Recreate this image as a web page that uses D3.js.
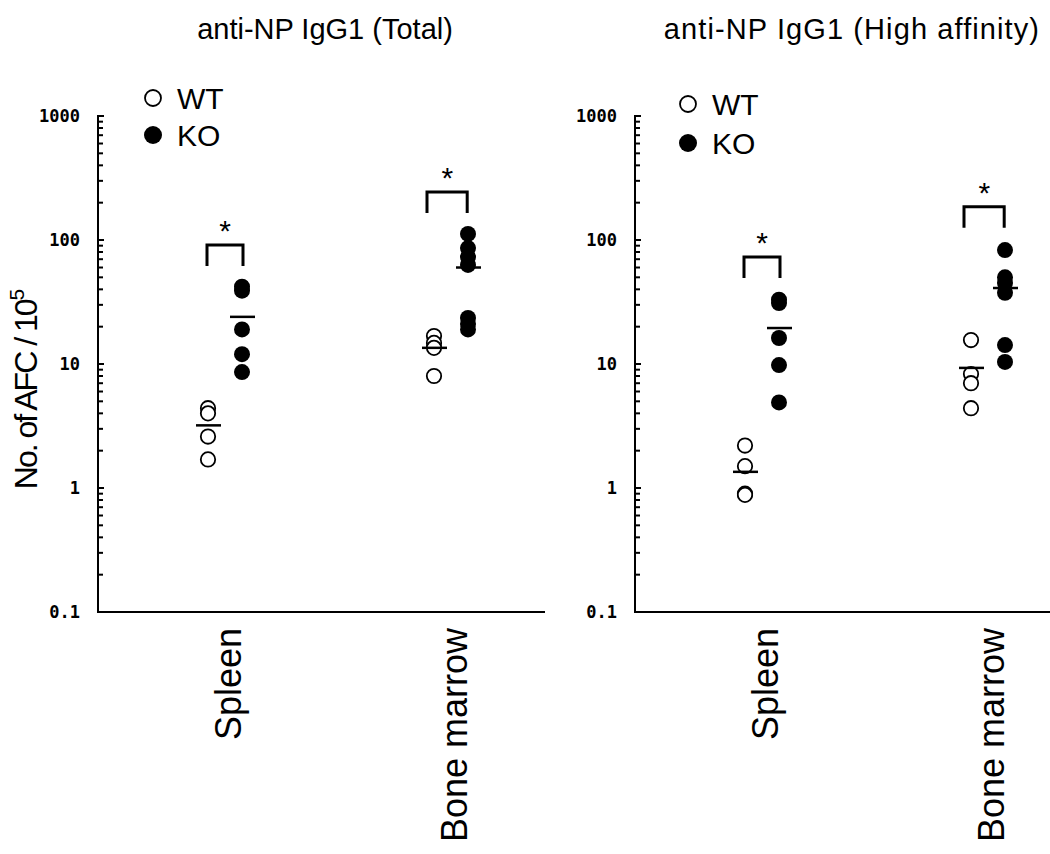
<!DOCTYPE html>
<html>
<head>
<meta charset="utf-8">
<script src="https://cdn.jsdelivr.net/npm/d3@7"></script>
<style>
  body { margin: 0; background: #fff; }
  svg { display: block; }
</style>
</head>
<body>
<svg id="chart" width="1050" height="854"></svg>
<script>
(() => {
  'use strict';

  // ---- data ----
  const categories = ["Spleen", "Bone marrow"];
  const groups = ["WT", "KO"];
  const titles = ["anti-NP IgG1 (Total)", "anti-NP IgG1 (High affinity)"];
  const yTicks = [0.1, 1, 10, 100, 1000];
  const yTickLabels = ["0.1", "1", "10", "100", "1000"];

  // per category: [Spleen, Bone marrow]
  const totalWT = [[4.4, 4.0, 2.6, 1.7], [16.8, 14.8, 13.5, 8.0]];
  const totalKO = [[42, 39, 19, 12, 8.6], [112, 86, 73, 63, 23.5, 21, 19]];
  const totalMeanWT = [3.2, 13.5];
  const totalMeanKO = [24, 60];
  const totalSig = [91, 244];

  const highWT = [[2.2, 1.5, 0.9, 0.88], [15.6, 8.3, 7.0, 4.4]];
  const highKO = [[33, 31, 16.2, 9.8, 4.9], [83, 50, 45, 37.5, 14.2, 10.4]];
  const highMeanWT = [1.35, 9.3];
  const highMeanKO = [19.5, 41];
  const highSig = [73, 185];

  const panels = [
    { title: titles[0], wt: totalWT, ko: totalKO, meanWT: totalMeanWT, meanKO: totalMeanKO, sig: totalSig,
      axisX: 98, axisEnd: 545, titleX: 325, titleSpacing: 0, legend: [153, 98, 37] },
    { title: titles[1], wt: highWT, ko: highKO, meanWT: highMeanWT, meanKO: highMeanKO, sig: highSig,
      axisX: 635, axisEnd: 1050, titleX: 852, titleSpacing: 1.1, legend: [688, 104, 39] }
  ];

  const svg = d3.select("#chart");
  const top = 116, bottom = 612;
  const r = 8;
  const sans = "Arial, 'Liberation Sans', sans-serif";

  let y = d3.scaleLog().domain([0.1, 1000]).range([bottom, top]);

  // shared y-axis title
  svg.append("text")
    .attr("transform", `translate(37, ${390}) rotate(-90)`)
    .attr("text-anchor", "middle")
    .attr("font-family", sans)
    .attr("font-size", 32)
    .attr("letter-spacing", -2)
    .text("No. of AFC / 10")
    .append("tspan")
    .attr("dy", -13)
    .attr("font-size", 21)
    .text("5");

  panels.forEach(p => {
    let g = svg.append("g");
    let x = d3.scalePoint().domain(categories).range([p.axisX + 127, p.axisX + 353]);
    let off = d3.scalePoint().domain(groups).range([-17, 17]);

    // title
    g.append("text")
      .attr("x", p.titleX)
      .attr("y", 39)
      .attr("text-anchor", "middle")
      .attr("font-family", sans)
      .attr("font-size", 29)
      .attr("letter-spacing", p.titleSpacing)
      .text(p.title);

    // y axis with minor ticks pointing inward
    let minor = [];
    for (let e = -1; e < 3; e++) for (let m = 2; m <= 9; m++) minor.push(m * Math.pow(10, e));
    let axis = g.append("g").attr("transform", `translate(${p.axisX},0)`);
    axis.append("line")
      .attr("y1", top - 1).attr("y2", bottom + 1)
      .attr("stroke", "#000").attr("stroke-width", 2);
    axis.selectAll(".minor").data(minor).join("line")
      .attr("x1", 0).attr("x2", 5)
      .attr("y1", d => y(d)).attr("y2", d => y(d))
      .attr("stroke", "#000").attr("stroke-width", 2);
    axis.selectAll(".major").data(yTicks).join("line")
      .attr("x1", 0).attr("x2", 6)
      .attr("y1", d => y(d)).attr("y2", d => y(d))
      .attr("stroke", "#000").attr("stroke-width", 2);
    axis.selectAll(".lab").data(yTicks).join("text")
      .attr("x", -18)
      .attr("y", d => y(d))
      .attr("dy", "0.36em")
      .attr("text-anchor", "end")
      .attr("font-family", "'DejaVu Sans Mono', monospace")
      .attr("font-weight", "bold")
      .attr("font-size", 17)
      .text((d, i) => yTickLabels[i]);

    // x axis line
    g.append("line")
      .attr("x1", p.axisX - 1).attr("x2", p.axisEnd)
      .attr("y1", bottom).attr("y2", bottom)
      .attr("stroke", "#000").attr("stroke-width", 2);

    // category labels
    g.selectAll(".cat").data(categories).join("text")
      .attr("transform", d => `translate(${x(d) + 3}, ${628}) rotate(-90)`)
      .attr("dy", "0.36em")
      .attr("text-anchor", "end")
      .attr("font-family", sans)
      .attr("font-size", 36)
      .text(d => d);

    // points
    categories.forEach((c, ci) => {
      let xw = x(c) + off("WT"), xk = x(c) + off("KO");
      g.selectAll(null).data(p.wt[ci]).join("circle")
        .attr("cx", xw).attr("cy", d => y(d)).attr("r", r - 0.8)
        .attr("fill", "#fff").attr("stroke", "#000").attr("stroke-width", 1.8);
      g.selectAll(null).data(p.ko[ci]).join("circle")
        .attr("cx", xk).attr("cy", d => y(d)).attr("r", r)
        .attr("fill", "#000");
      // mean bars
      [[xw, p.meanWT[ci]], [xk, p.meanKO[ci]]].forEach(([mx, mv]) => {
        g.append("line")
          .attr("x1", mx - 12).attr("x2", mx + 13)
          .attr("y1", y(mv)).attr("y2", y(mv))
          .attr("stroke", "#000").attr("stroke-width", 2.5);
      });
      // significance bracket
      let shift = ci === 1 ? -6 : 0;
      let by = y(p.sig[ci]);
      g.append("path")
        .attr("d", `M${xw - 1 + shift},${by + 21}V${by}H${xk + 1 + shift * 0.3}V${by + 21}`)
        .attr("fill", "none").attr("stroke", "#000").attr("stroke-width", 3);
      g.append("text")
        .attr("x", (xw + xk) / 2 + shift * 0.6)
        .attr("y", by - 4)
        .attr("text-anchor", "middle")
        .attr("font-family", sans)
        .attr("font-size", 30)
        .text("*");
    });

    // legend
    let [lx, ly, lstep] = p.legend;
    groups.forEach((grp, i) => {
      let cy = ly + i * lstep;
      g.append("circle")
        .attr("cx", lx).attr("cy", cy).attr("r", grp === "WT" ? 8 : 9)
        .attr("fill", grp === "WT" ? "#fff" : "#000")
        .attr("stroke", "#000").attr("stroke-width", grp === "WT" ? 1.8 : 0);
      g.append("text")
        .attr("x", lx + 24).attr("y", cy)
        .attr("dy", "0.36em")
        .attr("font-family", sans)
        .attr("font-size", 30)
        .text(grp);
    });
  });
})();
</script>
</body>
</html>
